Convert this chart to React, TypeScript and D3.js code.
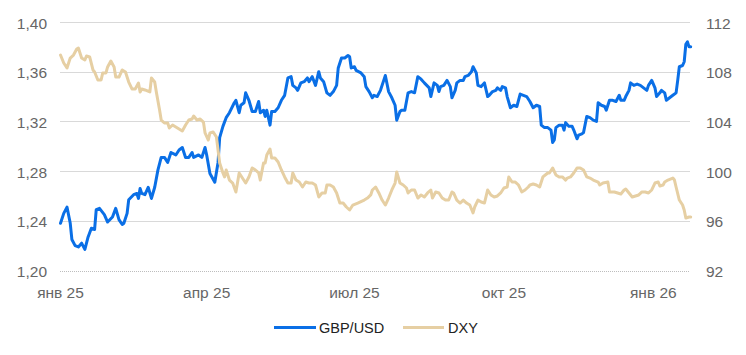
import React from "react";
import * as d3 from "d3";

const gbpDates = ["2025-01-01","2025-01-03","2025-01-05","2025-01-07","2025-01-08","2025-01-10","2025-01-12","2025-01-14","2025-01-16","2025-01-18","2025-01-20","2025-01-22","2025-01-23","2025-01-25","2025-01-28","2025-01-30","2025-02-02","2025-02-04","2025-02-06","2025-02-08","2025-02-09","2025-02-11","2025-02-12","2025-02-15","2025-02-17","2025-02-18","2025-02-19","2025-02-20","2025-02-22","2025-02-24","2025-02-26","2025-02-28","2025-03-02","2025-03-04","2025-03-06","2025-03-08","2025-03-10","2025-03-13","2025-03-15","2025-03-17","2025-03-19","2025-03-21","2025-03-23","2025-03-24","2025-03-27","2025-03-29","2025-03-31","2025-04-01","2025-04-03","2025-04-06","2025-04-08","2025-04-09","2025-04-11","2025-04-13","2025-04-15","2025-04-18","2025-04-19","2025-04-21","2025-04-22","2025-04-24","2025-04-25","2025-04-27","2025-04-29","2025-05-01","2025-05-03","2025-05-04","2025-05-06","2025-05-07","2025-05-08","2025-05-10","2025-05-11","2025-05-13","2025-05-15","2025-05-17","2025-05-19","2025-05-21","2025-05-23","2025-05-24","2025-05-26","2025-05-27","2025-05-29","2025-05-31","2025-06-02","2025-06-03","2025-06-05","2025-06-07","2025-06-09","2025-06-10","2025-06-12","2025-06-14","2025-06-16","2025-06-18","2025-06-20","2025-06-21","2025-06-23","2025-06-25","2025-06-27","2025-06-28","2025-06-29","2025-07-01","2025-07-02","2025-07-05","2025-07-07","2025-07-08","2025-07-10","2025-07-12","2025-07-13","2025-07-15","2025-07-17","2025-07-19","2025-07-20","2025-07-22","2025-07-24","2025-07-26","2025-07-27","2025-07-29","2025-07-30","2025-08-01","2025-08-03","2025-08-05","2025-08-07","2025-08-09","2025-08-11","2025-08-13","2025-08-16","2025-08-17","2025-08-19","2025-08-21","2025-08-22","2025-08-23","2025-08-25","2025-08-27","2025-08-29","2025-08-30","2025-09-01","2025-09-02","2025-09-04","2025-09-06","2025-09-07","2025-09-09","2025-09-11","2025-09-12","2025-09-14","2025-09-15","2025-09-17","2025-09-19","2025-09-21","2025-09-22","2025-09-24","2025-09-26","2025-09-27","2025-09-29","2025-09-30","2025-10-02","2025-10-03","2025-10-05","2025-10-07","2025-10-09","2025-10-11","2025-10-13","2025-10-15","2025-10-17","2025-10-19","2025-10-21","2025-10-23","2025-10-24","2025-10-26","2025-10-28","2025-10-30","2025-10-31","2025-11-01","2025-11-02","2025-11-04","2025-11-06","2025-11-07","2025-11-08","2025-11-10","2025-11-12","2025-11-13","2025-11-15","2025-11-16","2025-11-18","2025-11-19","2025-11-21","2025-11-23","2025-11-25","2025-11-27","2025-11-28","2025-11-30","2025-12-02","2025-12-03","2025-12-05","2025-12-07","2025-12-09","2025-12-11","2025-12-12","2025-12-14","2025-12-15","2025-12-17","2025-12-18","2025-12-20","2025-12-22","2025-12-24","2025-12-26","2025-12-28","2025-12-29","2025-12-31","2026-01-02","2026-01-03","2026-01-05","2026-01-06","2026-01-08","2026-01-09","2026-01-11","2026-01-13","2026-01-15","2026-01-16","2026-01-17","2026-01-19","2026-01-20","2026-01-21","2026-01-22","2026-01-23","2026-01-24"];
const gbpValues = [1.238,1.246,1.251,1.238,1.225,1.220,1.219,1.222,1.217,1.227,1.234,1.233,1.249,1.250,1.245,1.239,1.243,1.250,1.241,1.237,1.238,1.246,1.257,1.261,1.262,1.258,1.266,1.262,1.261,1.267,1.258,1.267,1.281,1.291,1.291,1.287,1.295,1.293,1.297,1.299,1.291,1.291,1.295,1.291,1.293,1.291,1.299,1.293,1.278,1.271,1.287,1.307,1.316,1.323,1.327,1.335,1.337,1.327,1.333,1.335,1.343,1.337,1.328,1.328,1.336,1.327,1.329,1.324,1.329,1.317,1.328,1.328,1.331,1.337,1.341,1.355,1.356,1.349,1.347,1.345,1.351,1.352,1.355,1.352,1.356,1.349,1.360,1.355,1.352,1.343,1.341,1.344,1.349,1.363,1.371,1.371,1.373,1.372,1.363,1.364,1.361,1.359,1.356,1.348,1.344,1.339,1.341,1.340,1.345,1.353,1.357,1.344,1.339,1.333,1.321,1.328,1.329,1.329,1.343,1.344,1.343,1.356,1.354,1.351,1.347,1.340,1.351,1.349,1.344,1.348,1.349,1.353,1.348,1.339,1.345,1.351,1.353,1.353,1.356,1.357,1.360,1.364,1.359,1.349,1.348,1.351,1.340,1.341,1.344,1.345,1.347,1.345,1.348,1.347,1.340,1.331,1.333,1.332,1.342,1.341,1.340,1.336,1.331,1.333,1.332,1.317,1.315,1.315,1.313,1.303,1.305,1.315,1.317,1.317,1.313,1.319,1.316,1.316,1.313,1.306,1.309,1.310,1.311,1.324,1.323,1.321,1.320,1.335,1.333,1.332,1.329,1.337,1.337,1.336,1.341,1.337,1.337,1.340,1.345,1.351,1.349,1.350,1.349,1.347,1.345,1.349,1.353,1.347,1.340,1.343,1.345,1.343,1.337,1.339,1.341,1.343,1.353,1.364,1.365,1.368,1.382,1.384,1.380,1.380];

const dxyDates = ["2025-01-01","2025-01-03","2025-01-05","2025-01-07","2025-01-09","2025-01-11","2025-01-12","2025-01-14","2025-01-16","2025-01-17","2025-01-19","2025-01-21","2025-01-22","2025-01-24","2025-01-26","2025-01-27","2025-01-29","2025-01-30","2025-02-01","2025-02-03","2025-02-04","2025-02-06","2025-02-08","2025-02-10","2025-02-12","2025-02-14","2025-02-16","2025-02-18","2025-02-19","2025-02-20","2025-02-22","2025-02-25","2025-02-26","2025-02-28","2025-03-01","2025-03-03","2025-03-04","2025-03-06","2025-03-08","2025-03-09","2025-03-11","2025-03-13","2025-03-15","2025-03-17","2025-03-19","2025-03-21","2025-03-23","2025-03-24","2025-03-26","2025-03-28","2025-03-30","2025-03-31","2025-04-02","2025-04-03","2025-04-05","2025-04-07","2025-04-09","2025-04-11","2025-04-12","2025-04-13","2025-04-15","2025-04-17","2025-04-19","2025-04-21","2025-04-23","2025-04-25","2025-04-27","2025-04-29","2025-05-01","2025-05-03","2025-05-04","2025-05-06","2025-05-07","2025-05-08","2025-05-10","2025-05-11","2025-05-13","2025-05-15","2025-05-17","2025-05-19","2025-05-21","2025-05-23","2025-05-24","2025-05-26","2025-05-28","2025-05-30","2025-06-01","2025-06-03","2025-06-05","2025-06-07","2025-06-09","2025-06-11","2025-06-13","2025-06-14","2025-06-16","2025-06-18","2025-06-20","2025-06-22","2025-06-24","2025-06-26","2025-06-28","2025-06-30","2025-07-03","2025-07-07","2025-07-09","2025-07-11","2025-07-12","2025-07-14","2025-07-16","2025-07-18","2025-07-20","2025-07-22","2025-07-24","2025-07-26","2025-07-27","2025-07-29","2025-07-31","2025-08-02","2025-08-03","2025-08-05","2025-08-07","2025-08-09","2025-08-11","2025-08-13","2025-08-15","2025-08-17","2025-08-18","2025-08-20","2025-08-22","2025-08-24","2025-08-26","2025-08-28","2025-08-30","2025-08-31","2025-09-02","2025-09-04","2025-09-06","2025-09-08","2025-09-10","2025-09-12","2025-09-13","2025-09-15","2025-09-17","2025-09-19","2025-09-21","2025-09-23","2025-09-25","2025-09-27","2025-09-29","2025-10-01","2025-10-03","2025-10-04","2025-10-06","2025-10-08","2025-10-10","2025-10-12","2025-10-14","2025-10-16","2025-10-17","2025-10-19","2025-10-21","2025-10-23","2025-10-25","2025-10-28","2025-10-29","2025-10-31","2025-11-02","2025-11-04","2025-11-06","2025-11-08","2025-11-09","2025-11-11","2025-11-13","2025-11-15","2025-11-17","2025-11-19","2025-11-21","2025-11-23","2025-11-25","2025-11-28","2025-11-29","2025-12-01","2025-12-04","2025-12-05","2025-12-08","2025-12-10","2025-12-12","2025-12-14","2025-12-15","2025-12-17","2025-12-19","2025-12-21","2025-12-23","2025-12-25","2025-12-27","2025-12-29","2025-12-31","2026-01-02","2026-01-04","2026-01-05","2026-01-07","2026-01-08","2026-01-10","2026-01-13","2026-01-14","2026-01-15","2026-01-17","2026-01-19","2026-01-20","2026-01-21","2026-01-23","2026-01-24"];
const dxyValues = [109.34,108.70,108.30,109.10,109.34,109.83,109.91,109.10,108.94,109.26,109.18,108.14,107.98,107.33,107.33,107.90,107.90,108.38,108.86,108.38,107.57,107.57,108.14,107.98,107.17,106.61,106.61,107.09,106.37,106.61,106.53,106.37,107.49,107.17,106.37,104.92,104.11,103.87,103.87,103.47,103.71,103.55,103.39,103.23,103.71,104.11,104.19,104.43,104.11,104.19,103.95,103.07,102.50,103.07,103.15,102.74,100.65,99.85,99.53,100.09,99.28,99.04,98.32,99.85,99.44,99.04,99.53,100.25,100.09,99.85,99.28,100.65,100.65,101.30,101.78,101.05,101.05,100.73,100.09,99.53,99.04,99.04,99.85,99.28,99.12,98.72,99.12,99.04,99.04,98.88,97.92,98.24,98.24,98.88,98.88,98.72,98.24,97.43,97.43,97.11,96.87,97.27,97.43,97.67,97.83,98.08,98.48,98.72,98.24,97.67,97.27,97.83,98.48,99.04,99.93,99.04,98.88,98.64,98.24,98.48,98.48,97.83,98.08,97.92,98.24,98.48,97.83,98.32,98.24,97.83,97.67,97.67,98.32,98.24,97.67,97.43,97.67,97.43,97.27,96.63,97.11,97.67,97.51,97.43,98.48,98.08,97.92,98.00,98.24,98.64,98.72,99.53,99.12,99.12,98.88,98.32,98.48,98.72,98.88,98.96,98.88,98.72,99.53,99.85,99.85,100.25,99.69,99.53,99.53,99.28,99.44,99.53,99.85,100.25,100.25,100.09,99.53,99.44,99.28,99.12,98.88,99.04,99.12,98.32,98.32,98.24,98.16,98.48,98.56,98.24,97.92,98.00,98.08,98.32,98.32,98.24,98.48,99.04,99.12,98.80,98.88,99.12,99.28,99.44,99.28,98.72,97.67,97.27,96.87,96.23,96.31,96.31];

const leftTicks = [1.2, 1.24, 1.28, 1.32, 1.36, 1.4];
const rightTicks = [92, 96, 100, 104, 108, 112];
const xTickDates = ["2025-01-01", "2025-04-01", "2025-07-01", "2025-10-01", "2026-01-01"];
const xTickLabels = ["янв 25", "апр 25", "июл 25", "окт 25", "янв 26"];
const seriesNames = ["GBP/USD", "DXY"];

const W = 746;
const H = 355;
const FONT = "Arial, 'Liberation Sans', sans-serif";
const BLUE = "#0A6FE6";
const TAN = "#E6CFA3";

export default function App() {
  const parse = d3.timeParse("%Y-%m-%d");
  const x = d3
    .scaleTime()
    .domain([parse("2025-01-01")!, parse("2026-01-24")!])
    .range([60.5, 690.7]);
  const yL = d3.scaleLinear().domain([1.2, 1.4]).range([270.5, 22]);
  const yR = d3.scaleLinear().domain([92, 112]).range([270.5, 22]);

  const gbp = gbpDates.map((d, i) => ({ d: parse(d)!, v: gbpValues[i] }));
  const dxy = dxyDates.map((d, i) => ({ d: parse(d)!, v: dxyValues[i] }));

  const lineL = d3
    .line<{ d: Date; v: number }>()
    .x((p) => x(p.d))
    .y((p) => yL(p.v));
  const lineR = d3
    .line<{ d: Date; v: number }>()
    .x((p) => x(p.d))
    .y((p) => yR(p.v));

  const fmt = (v: number) => d3.format(".2f")(v).replace(".", ",");

  return (
    <svg
      width={W}
      height={H}
      style={{ position: "absolute", left: 0, top: 0, background: "#fff" }}
      fontFamily={FONT}
    >
      {leftTicks.map((t, i) => (
        <line
          key={"g" + i}
          x1={60}
          x2={690}
          y1={Math.round(yL(t)) + 0.5}
          y2={Math.round(yL(t)) + 0.5}
          stroke={i === 0 ? "#bdbdbd" : "#d9d9d9"}
          strokeWidth={1}
          strokeDasharray={i === 0 ? "1,1" : undefined}
        />
      ))}
      {leftTicks.map((t, i) => (
        <text
          key={"l" + i}
          x={47}
          y={yL(t) + 1}
          textAnchor="end"
          dominantBaseline="central"
          fontSize={15.5}
          fill="#666"
        >
          {fmt(t)}
        </text>
      ))}
      {rightTicks.map((t, i) => (
        <text
          key={"r" + i}
          x={706}
          y={yR(t) + 1}
          textAnchor="start"
          dominantBaseline="central"
          fontSize={15.5}
          fill="#666"
        >
          {t}
        </text>
      ))}
      {xTickDates.map((d, i) => (
        <text
          key={"x" + i}
          x={x(parse(d)!)}
          y={298}
          textAnchor="middle"
          fontSize={15.5}
          fill="#666"
        >
          {xTickLabels[i]}
        </text>
      ))}
      <path
        d={lineL(gbp) || ""}
        fill="none"
        stroke={BLUE}
        strokeWidth={3}
        strokeLinejoin="round"
        strokeLinecap="round"
      />
      <path
        d={lineR(dxy) || ""}
        fill="none"
        stroke={TAN}
        strokeWidth={3}
        strokeLinejoin="round"
        strokeLinecap="round"
      />
      <g>
        <line x1={274} x2={316} y1={327.5} y2={327.5} stroke={BLUE} strokeWidth={3} />
        <text x={319} y={327.5} dominantBaseline="central" fontSize={14.5} fill="#222">
          {seriesNames[0]}
        </text>
        <line x1={403} x2={444} y1={327.5} y2={327.5} stroke={TAN} strokeWidth={3} />
        <text x={448} y={327.5} dominantBaseline="central" fontSize={14.5} fill="#222">
          {seriesNames[1]}
        </text>
      </g>
    </svg>
  );
}
